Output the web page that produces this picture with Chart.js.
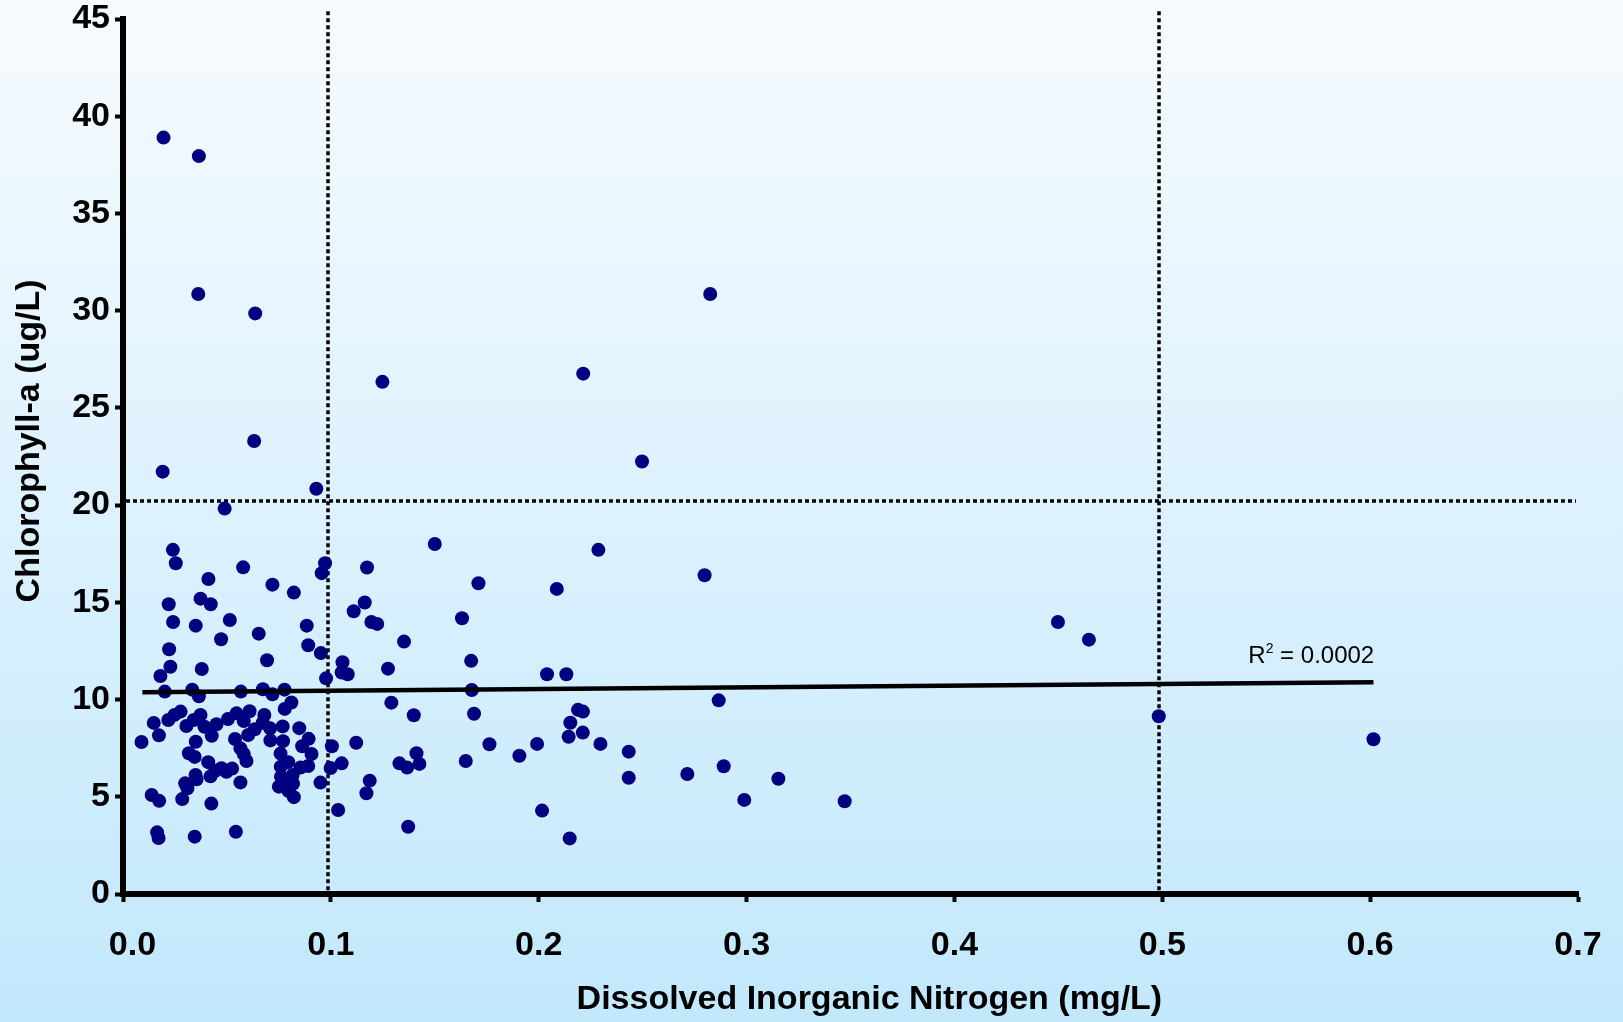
<!DOCTYPE html>
<html>
<head>
<meta charset="utf-8">
<script src="https://cdn.jsdelivr.net/npm/chart.js@4.4.1/dist/chart.umd.min.js"></script>
<style>
html,body{margin:0;padding:0;background:#fff;}
canvas{display:block;}
</style>
</head>
<body>
<canvas id="chart" width="1623" height="1022"></canvas>
<script>
// Dissolved Inorganic Nitrogen (mg/L) — x values
const dinValues = [
  0.0195,0.0365,0.0362,0.0636,0.2825,0.1248,0.2214,0.0631,0.2497,0.0191,
  0.0930,0.0489,0.0240,0.0254,0.0411,0.0578,0.0719,0.0822,0.0972,0.0956,
  0.0220,0.0373,0.0422,0.0241,0.0514,0.0350,0.0653,0.0472,0.0884,0.0891,
  0.0222,0.0952,0.0693,0.0228,0.0379,0.0180,0.0977,0.1056,0.1052,0.1081,
  0.1500,0.2287,0.1174,0.1710,0.2087,0.1163,0.1110,0.1195,0.1223,0.1631,
  0.1352,0.1275,0.1675,0.2040,0.2133,0.1678,0.1291,0.1399,0.1689,0.2189,
  0.2213,0.2152,0.2212,0.2144,0.2297,0.1992,0.1763,0.1907,0.1649,0.1122,
  0.1052,0.1412,0.1330,0.1367,0.1426,0.1187,0.1171,0.1035,0.1372,0.2016,
  0.2149,0.2798,0.2866,0.2433,0.2433,0.2715,0.2890,0.3153,0.2989,0.3472,
  0.4498,0.4647,0.4983,0.6016,0.0201,0.0333,0.0365,0.0567,0.0673,0.0719,
  0.0777,0.0810,0.0778,0.0277,0.0248,0.0218,0.0148,0.0173,0.0089,0.0305,
  0.0340,0.0373,0.0392,0.0450,0.0427,0.0350,0.0505,0.0546,0.0581,0.0609,
  0.0680,0.0672,0.0708,0.0768,0.0848,0.0634,0.0602,0.0539,0.0709,0.0770,
  0.0893,0.0862,0.0907,0.1005,0.0565,0.0758,0.0317,0.0345,0.0581,0.0594,
  0.0410,0.0795,0.0759,0.0854,0.0891,0.0999,0.0525,0.0474,0.0498,0.0445,
  0.0421,0.0349,0.0354,0.0299,0.0310,0.0565,0.0760,0.0816,0.0790,0.0818,
  0.0750,0.0797,0.0950,0.0822,0.0138,0.0174,0.0285,0.0425,0.0164,0.0171,
  0.0345,0.0543
];
// Chlorophyll-a (ug/L) — y values
const chlaValues = [
  38.9,37.95,30.86,29.86,30.86,26.34,26.76,23.3,22.24,21.72,
  20.84,19.82,17.7,17.01,16.2,16.8,15.91,15.5,17.01,16.5,
  14.9,15.19,14.9,13.99,14.09,13.8,13.39,13.1,13.8,12.79,
  12.59,12.39,12.02,11.69,11.57,11.21,11.09,11.92,11.39,11.3,
  18.0,17.7,16.79,15.98,15.69,14.99,14.54,13.99,13.89,14.18,
  12.98,11.59,11.99,11.3,11.3,10.49,9.84,9.19,9.27,9.47,
  9.38,8.81,8.3,8.09,7.72,7.72,7.7,7.11,6.84,7.78,
  6.72,7.24,6.72,6.5,6.69,5.83,5.18,4.32,3.46,4.29,
  2.86,16.39,9.96,7.32,5.98,6.17,6.57,5.93,4.84,4.77,
  13.99,13.08,9.14,7.96,10.41,10.51,10.17,10.41,10.53,10.27,
  10.51,9.85,9.52,9.38,9.21,8.95,8.8,8.16,7.82,8.64,
  8.95,9.21,8.6,8.73,8.14,7.83,9.0,9.29,8.9,9.4,
  9.21,8.81,8.52,8.62,8.53,8.47,8.18,7.97,7.9,7.86,
  7.98,7.6,7.2,7.6,7.49,7.22,7.24,7.05,7.2,6.84,
  6.78,6.78,6.55,6.5,6.58,6.48,6.45,6.47,6.29,6.34,
  6.05,6.12,5.9,5.69,5.44,5.74,6.03,6.12,5.8,5.67,
  5.52,5.3,5.73,4.98,5.09,4.79,4.88,4.65,3.17,2.88,
  2.95,3.2
];
// linear trend line end points
const trendX = [0.0093, 0.6016];
const trendY = [10.38, 10.89];
// dotted reference lines
const refLineX = [0.0985, 0.4985];
const refLineY = [20.2];
// axis ticks
const xTickValues = [0, 0.1, 0.2, 0.3, 0.4, 0.5, 0.6, 0.7];
const xTickLabels = ['0.0','0.1','0.2','0.3','0.4','0.5','0.6','0.7'];
const yTickValues = [0, 5, 10, 15, 20, 25, 30, 35, 40, 45];
const yTickLabels = ['0','5','10','15','20','25','30','35','40','45'];
// annotation
const r2Label = { base: 'R', sup: '2', rest: ' = 0.0002', x: 0.5414, y: 11.9 };

const FONT = '"Liberation Sans", Arial, Helvetica, sans-serif';

const backgroundPlugin = {
  id: 'bg',
  beforeDraw(chart) {
    const ctx = chart.ctx;
    const g = ctx.createLinearGradient(0, 0, 0, chart.height);
    g.addColorStop(0, '#F7FBFF');
    g.addColorStop(1, '#C2E8FC');
    ctx.save();
    ctx.fillStyle = g;
    ctx.fillRect(0, 0, chart.width, chart.height);
    ctx.restore();
  }
};

const refLinesPlugin = {
  id: 'refLines',
  beforeDatasetsDraw(chart) {
    const ctx = chart.ctx;
    const xs = chart.scales.x, ys = chart.scales.y;
    ctx.save();
    ctx.strokeStyle = '#000';
    ctx.lineWidth = 3.5;
    ctx.setLineDash([4, 3]);
    refLineX.forEach(v => {
      const px = Math.round(xs.getPixelForValue(v));
      ctx.beginPath();
      ctx.moveTo(px, ys.getPixelForValue(45.4));
      ctx.lineTo(px, ys.getPixelForValue(0) - 3);
      ctx.stroke();
    });
    refLineY.forEach(v => {
      const py = Math.round(ys.getPixelForValue(v));
      ctx.beginPath();
      ctx.moveTo(xs.getPixelForValue(0) + 3, py);
      ctx.lineTo(xs.getPixelForValue(0.699), py);
      ctx.stroke();
    });
    ctx.restore();
  }
};

const r2Plugin = {
  id: 'r2',
  afterDatasetsDraw(chart) {
    const ctx = chart.ctx;
    const xs = chart.scales.x, ys = chart.scales.y;
    let px = xs.getPixelForValue(r2Label.x);
    const py = ys.getPixelForValue(r2Label.y);
    ctx.save();
    ctx.fillStyle = '#000';
    ctx.textBaseline = 'alphabetic';
    ctx.textAlign = 'left';
    ctx.font = '24px ' + FONT;
    ctx.fillText(r2Label.base, px, py);
    px += ctx.measureText(r2Label.base).width;
    ctx.font = '14px ' + FONT;
    ctx.fillText(r2Label.sup, px, py - 10);
    px += ctx.measureText(r2Label.sup).width;
    ctx.font = '24px ' + FONT;
    ctx.fillText(r2Label.rest, px, py);
    ctx.restore();
  }
};

const points = dinValues.map((x, i) => ({ x: x, y: chlaValues[i] }));
const trend = trendX.map((x, i) => ({ x: x, y: trendY[i] }));

const tickGrid = { display: true, drawOnChartArea: false, drawTicks: true, tickLength: 8, tickWidth: 4, tickColor: '#000' };

new Chart(document.getElementById('chart'), {
  type: 'scatter',
  data: {
    datasets: [
      {
        type: 'line',
        data: trend,
        borderColor: '#000',
        borderWidth: 4.5,
        pointRadius: 0,
        fill: false,
        order: 0
      },
      {
        type: 'scatter',
        data: points,
        backgroundColor: '#000080',
        borderWidth: 0,
        pointRadius: 7,
        pointHoverRadius: 7,
        order: 1
      }
    ]
  },
  options: {
    responsive: false,
    animation: false,
    devicePixelRatio: 1,
    layout: { padding: { top: 19, right: 45, left: 0, bottom: 0 } },
    plugins: { legend: { display: false }, tooltip: { enabled: false } },
    scales: {
      x: {
        type: 'linear',
        min: 0, max: 0.7,
        afterBuildTicks: s => { s.ticks = xTickValues.map(v => ({ value: v })); },
        afterFit: s => { s.height = 128; s.paddingLeft = 0; s.paddingRight = 0; },
        ticks: {
          // first label sits a little right of the y axis, as in the original
          callback: (v) => {
            const i = xTickValues.indexOf(v);
            return (i === 0 ? '  ' : '') + xTickLabels[i];
          },
          font: { family: FONT, size: 34, weight: 'bold' },
          color: '#000', padding: 23, maxRotation: 0, autoSkip: false
        },
        grid: tickGrid,
        border: { display: true, color: '#000', width: 6 },
        title: {
          display: true,
          text: '    Dissolved Inorganic Nitrogen (mg/L)',
          font: { family: FONT, size: 34, weight: 'bold' },
          color: '#000',
          padding: { top: 0, bottom: 2 }
        }
      },
      y: {
        type: 'linear',
        min: 0, max: 45,
        afterBuildTicks: s => { s.ticks = yTickValues.map(v => ({ value: v })); },
        afterFit: s => { s.width = 123; s.paddingTop = 0; s.paddingBottom = 0; },
        ticks: {
          callback: (v) => yTickLabels[yTickValues.indexOf(v)],
          font: { family: FONT, size: 34, weight: 'bold' },
          color: '#000', padding: 5, autoSkip: false
        },
        grid: tickGrid,
        border: { display: true, color: '#000', width: 6 },
        title: {
          display: true,
          text: '\u200A   Chlorophyll-a (ug/L)',
          font: { family: FONT, size: 34, weight: 'bold' },
          color: '#000',
          padding: { top: 9, bottom: 0 }
        }
      }
    }
  },
  plugins: [backgroundPlugin, refLinesPlugin, r2Plugin]
});
</script>
</body>
</html>
